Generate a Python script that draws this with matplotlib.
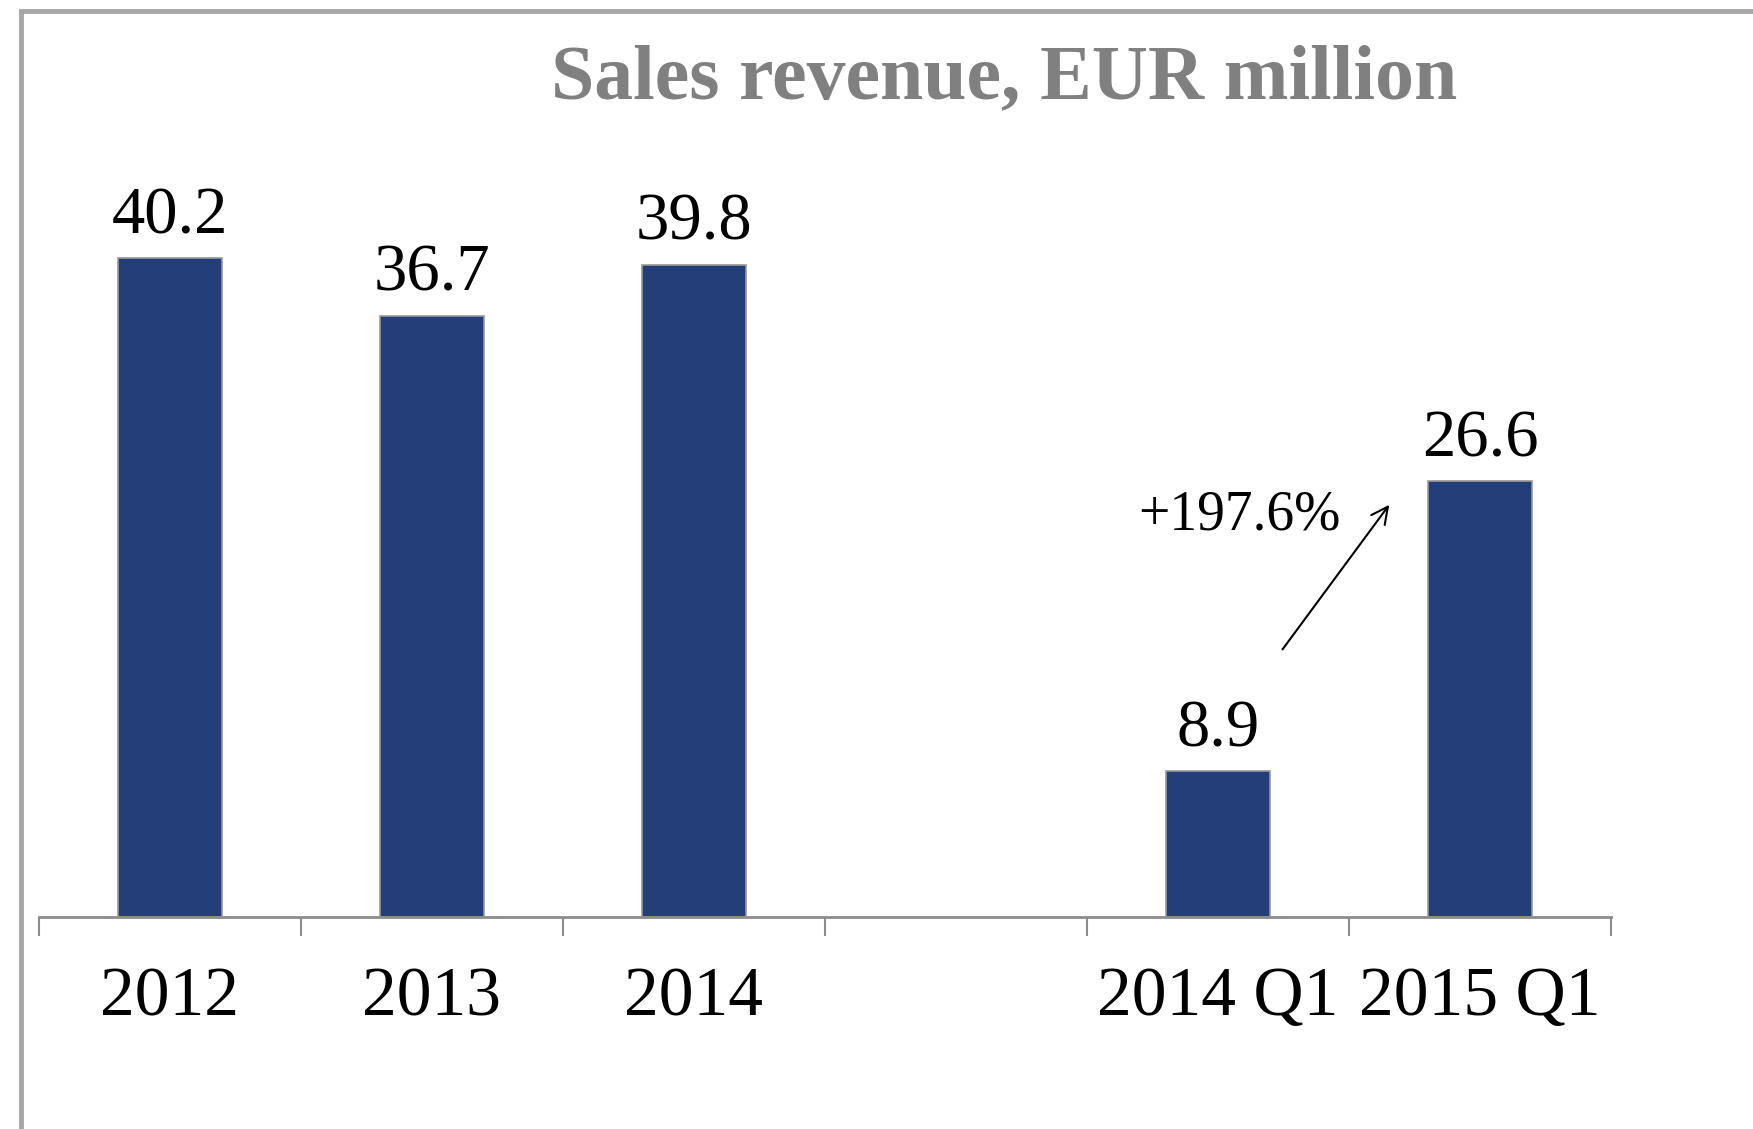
import matplotlib
matplotlib.use("Agg")
import matplotlib.pyplot as plt
from matplotlib.patches import Rectangle

# data
categories = ["2012", "2013", "2014", "", "2014 Q1", "2015 Q1"]
revenue = [40.2, 36.7, 39.8, None, 8.9, 26.6]
title = "Sales revenue, EUR million"
growth_label = "+197.6%"

BAR_COLOR = "#243E7A"
AXIS_GRAY = "#8C8C8C"
FONT = ["Liberation Serif", "DejaVu Serif"]

fig = plt.figure(figsize=(17.53, 11.29), dpi=100)
ax = fig.add_axes([0.0222, 0.1878, 0.8968, 0.6529])

x = [i for i, v in enumerate(revenue) if v is not None]
vals = [v for v in revenue if v is not None]
bars = ax.bar(x, vals, width=0.4, color=BAR_COLOR, edgecolor="#999999", linewidth=1.2)

for xi, v in zip(x, vals):
    ax.annotate(f"{v:.1f}", (xi, v), xytext=(0, 8), textcoords="offset points",
                ha="center", va="bottom", fontsize=48, family=FONT)

ax.set_xlim(-0.5, len(categories) - 0.5)
ax.set_ylim(0, 45)

# labels at centres, ticks at boundaries
ax.set_xticks(range(len(categories)))
ax.set_xticklabels(categories, fontsize=50, family=FONT)
ax.set_xticks([i - 0.5 for i in range(len(categories) + 1)], minor=True)
ax.tick_params(axis="x", which="major", length=0, pad=36)
ax.tick_params(axis="x", which="minor", length=14, width=1.5, color=AXIS_GRAY)
ax.set_yticks([])

for s in ["top", "right", "left"]:
    ax.spines[s].set_visible(False)
ax.spines["bottom"].set_color(AXIS_GRAY)
ax.spines["bottom"].set_linewidth(2)

# growth arrow between the two quarters
ax.annotate("", xy=(4.66, 25.3), xytext=(4.24, 16.2),
            arrowprops=dict(arrowstyle="->", color="black", lw=1.5, mutation_scale=30))
ax.text(4.08, 24.5, growth_label, ha="center", va="center", fontsize=40, family=FONT)

fig.text(0.573, 0.929, title, ha="center", va="center", fontsize=56,
         fontweight="bold", color="#808080", family=FONT)

# outer frame (runs off the right and bottom edges)
fig.patches.append(Rectangle((21 / 1753, -0.1), 1.2, 1.1 - 10.5 / 1129,
                             transform=fig.transFigure, fill=False,
                             edgecolor="#A6A6A6", linewidth=3.5))

fig.savefig("out.png", dpi=100)
